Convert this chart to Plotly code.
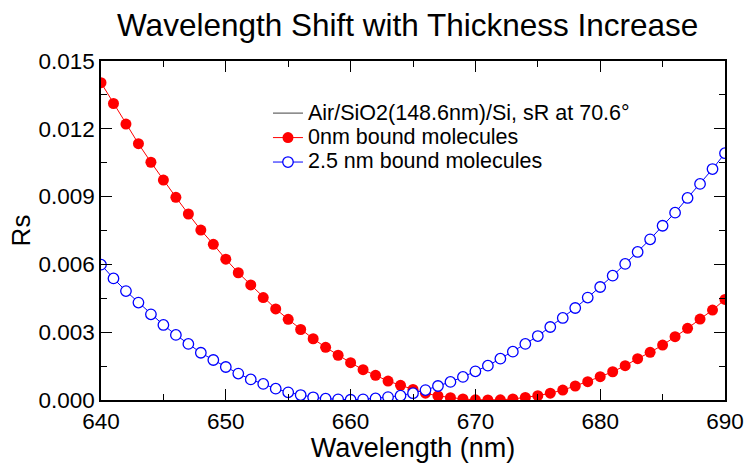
import plotly.graph_objects as go

wavelength = list(range(640, 691))

rs_0nm = [
    0.01404, 0.01312, 0.01221, 0.01134, 0.01052, 0.00973, 0.00897, 0.00823, 0.00752, 0.00689,
    0.00623, 0.00563, 0.00509, 0.00453, 0.00403, 0.00357, 0.00312, 0.00271, 0.00233, 0.00198,
    0.00165, 0.00134, 0.00109, 0.00084, 0.00065, 0.00047, 0.00030, 0.00018, 0.00010, 0.000045,
    0.00001, 0.00000, 0.00001, 0.000045, 0.00011, 0.00019, 0.00030, 0.00044, 0.00062, 0.00081,
    0.00103, 0.00125, 0.00152, 0.00183, 0.00211, 0.00243, 0.00280, 0.00317, 0.00358, 0.00398,
    0.00445,
]

rs_25nm = [
    0.00599, 0.00538, 0.00482, 0.00431, 0.00379, 0.00332, 0.00288, 0.00248, 0.00209, 0.00177,
    0.00146, 0.00117, 0.00091, 0.00071, 0.00050, 0.00034, 0.00022, 0.00012, 0.00006, 0.00003,
    0.00001, 0.00003, 0.00007, 0.00013, 0.00019, 0.00030, 0.00044, 0.00062, 0.00080, 0.00102,
    0.00127, 0.00152, 0.00183, 0.00214, 0.00248, 0.00283, 0.00323, 0.00363, 0.00407, 0.00453,
    0.00500, 0.00550, 0.00602, 0.00655, 0.00711, 0.00771, 0.00829, 0.00894, 0.00956, 0.01022,
    0.01092,
]

y_ticks = [0.0, 0.003, 0.006, 0.009, 0.012, 0.015]
y_ticktext = ["0.000", "0.003", "0.006", "0.009", "0.012", "0.015"]
x_ticks = [640, 650, 660, 670, 680, 690]

FONT = "Liberation Sans, Arial, sans-serif"


def legend_label(s):
    return '<span style="font-size:21.5px">' + s + '</span>'


fig = go.Figure()

fig.add_trace(go.Scatter(
    x=[None], y=[None], mode="lines",
    name=legend_label("Air/SiO2(148.6nm)/Si, sR at 70.6°"),
    line=dict(color="#808080", width=1.5),
))
fig.add_trace(go.Scatter(
    x=wavelength, y=rs_0nm, mode="lines+markers",
    name=legend_label("0nm bound molecules"),
    line=dict(color="#ff0000", width=1),
    marker=dict(color="#ff0000", size=11, line=dict(width=0)),
))
fig.add_trace(go.Scatter(
    x=wavelength, y=rs_25nm, mode="lines+markers",
    name=legend_label("2.5 nm bound molecules"),
    line=dict(color="#0000ff", width=1),
    marker=dict(color="white", size=10.5, symbol="circle",
                line=dict(color="#0000ff", width=1.3)),
))

axis_common = dict(
    showline=True, linecolor="black", linewidth=1.5, mirror="ticks",
    ticks="inside", ticklen=11, tickwidth=1.2, tickcolor="black",
    showgrid=False, zeroline=False, automargin=False,
    tickfont=dict(family=FONT, size=22.5, color="black"),
)

fig.update_xaxes(
    range=[640, 690], tickvals=x_ticks,
    minor=dict(dtick=5, ticks="inside", ticklen=6, tickwidth=1.2, tickcolor="black", showgrid=False),
    title=dict(text="Wavelength (nm)", font=dict(family=FONT, size=27, color="black"), standoff=6),
    **axis_common,
)
fig.update_yaxes(
    range=[0, 0.015], tickvals=y_ticks, ticktext=y_ticktext,
    minor=dict(dtick=0.0015, ticks="inside", ticklen=6, tickwidth=1.2, tickcolor="black", showgrid=False),
    title=dict(text="Rs", font=dict(family=FONT, size=26, color="black"), standoff=0),
    **axis_common,
)

fig.update_layout(
    width=744, height=463,
    margin=dict(l=101, r=19, t=61, b=63),
    paper_bgcolor="white", plot_bgcolor="white",
    title=dict(text="Wavelength Shift with Thickness Increase",
               font=dict(family=FONT, size=31.5, color="black"),
               x=0.548, xanchor="center", y=0.947, yanchor="middle"),
    legend=dict(x=0.2676, y=0.897, xanchor="left", yanchor="top",
                bgcolor="rgba(0,0,0,0)", borderwidth=0,
                font=dict(family=FONT, size=16.5, color="black"),
                itemwidth=30),
    showlegend=True,
)

fig.write_html("out.html")
